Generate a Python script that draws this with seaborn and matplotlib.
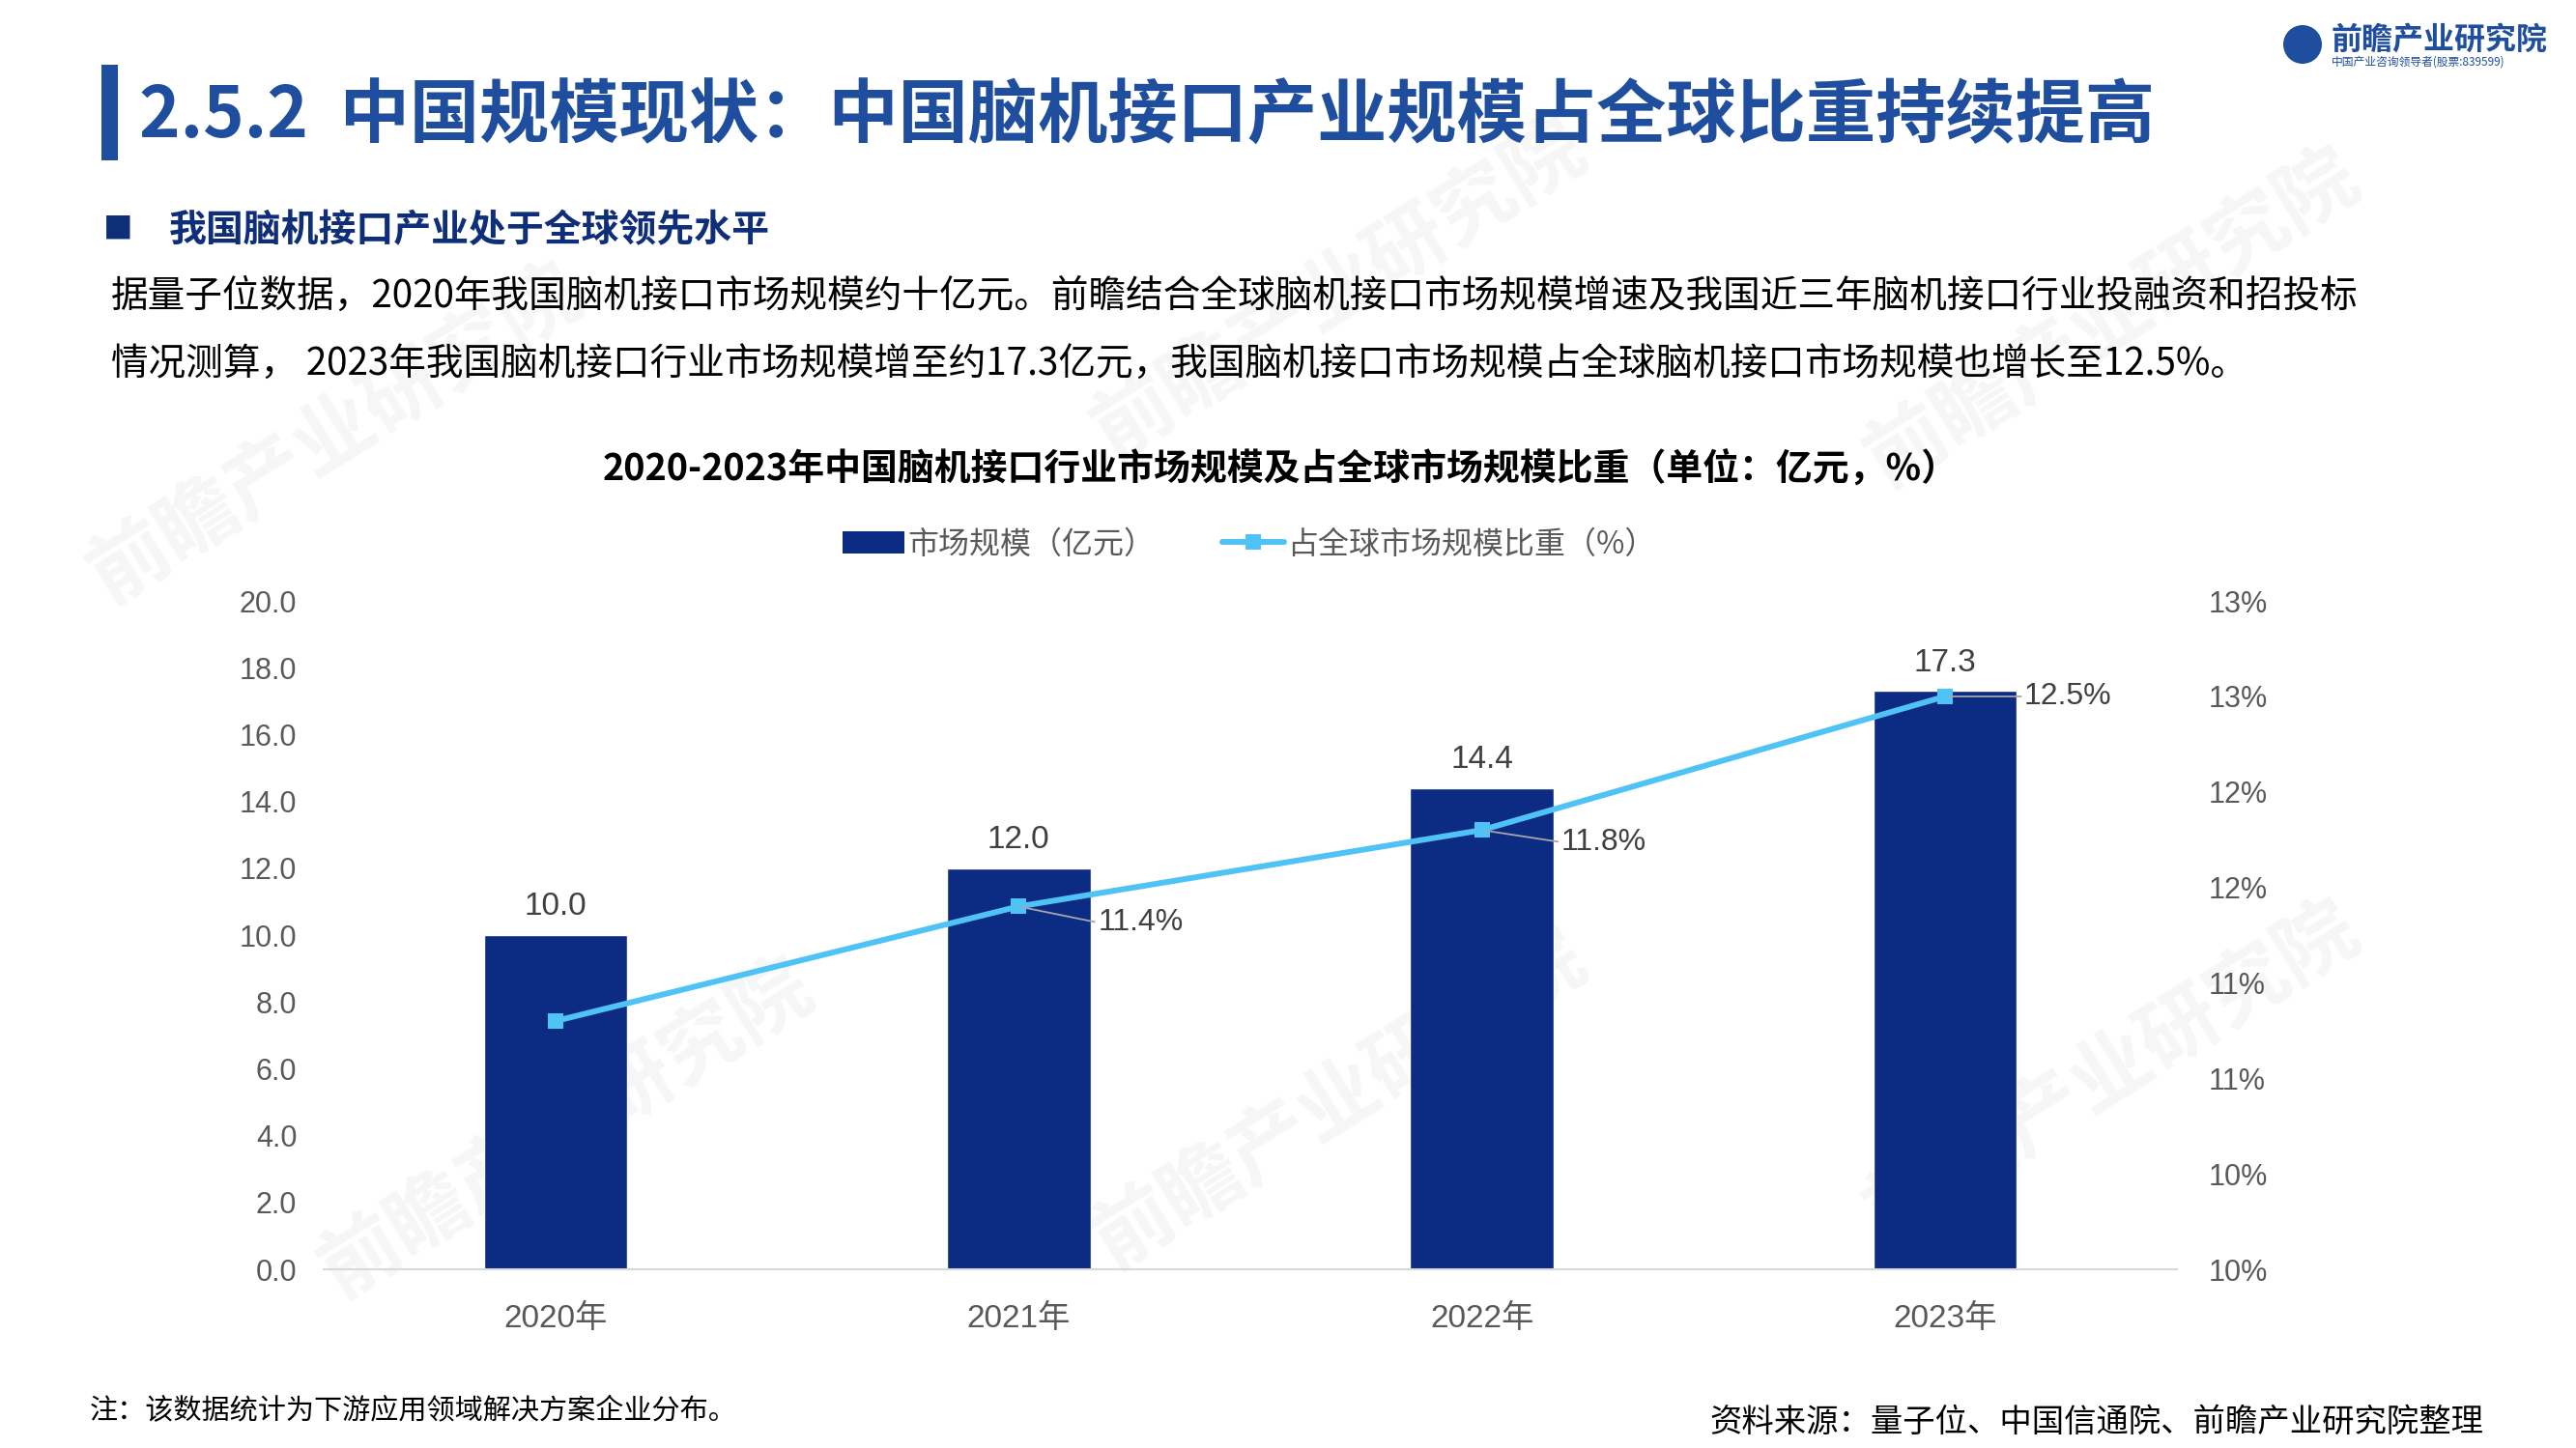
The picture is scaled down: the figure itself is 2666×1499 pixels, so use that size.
import numpy as np
import pandas as pd
import seaborn as sns
import matplotlib.pyplot as plt
from matplotlib.patches import Patch, Rectangle, Circle
from matplotlib.lines import Line2D
from matplotlib.ticker import FuncFormatter
import math

# Data
years = ["2020年", "2021年", "2022年", "2023年"]
market_size = [10.0, 12.0, 14.4, 17.3]
global_share = [10.8, 11.4, 11.8, 12.5]
share_labels = [None, "11.4%", "11.8%", "12.5%"]

size_ticks = [0, 2, 4, 6, 8, 10, 12, 14, 16, 18, 20]
share_ticks = [9.5, 10.0, 10.5, 11.0, 11.5, 12.0, 12.5, 13.0]

df = pd.DataFrame({
    "year": years,
    "size": market_size,
    "share": global_share
})

# Colours / fonts
NAVY = "#0C2B82"
SKY = "#4FC3F5"
TITLE_BLUE = "#1F4E9F"
GRAY = "#595959"
DARK = "#404040"

sns.set_theme(style="white")
plt.rcParams["font.family"] = ["Noto Sans CJK SC", "DejaVu Sans"]
NUM_FONT = ["Liberation Sans", "Noto Sans CJK SC"]

fig = plt.figure(figsize=(26.66, 14.99), dpi=100)
fig.patch.set_facecolor("white")

##################################################
# Watermarks (faint, behind everything)
##################################################
for wx, wy in [(0.13, 0.70), (0.22, 0.22), (0.52, 0.24), (0.82, 0.26), (0.82, 0.78), (0.52, 0.80)]:
    fig.text(
        wx, wy, "前瞻产业研究院",
        fontsize=60, color="#F6F6F6",
        rotation=32, ha="center", va="center",
        fontweight="bold", zorder=-5
    )

##################################################
# Chart
##################################################
ax = fig.add_axes([0.1257, 0.1234, 0.7193, 0.4616])
ax.patch.set_alpha(0)

sns.barplot(
    data=df,
    x="year",
    y="size",
    color=NAVY,
    saturation=1,
    width=0.31,
    ax=ax,
    zorder=2
)

ax.bar_label(
    ax.containers[0],
    fmt="%.1f",
    padding=10,
    fontsize=24,
    color=DARK,
    family=NUM_FONT
)

ax.set_ylim(0, 20)
ax.set_yticks(size_ticks)
ax.yaxis.set_major_formatter(FuncFormatter(lambda v, p: f"{v:.1f}"))
ax.set_xlabel("")
ax.set_ylabel("")

ax2 = ax.twinx()
ax2.patch.set_alpha(0)
sns.lineplot(
    x=np.arange(len(years)),
    y=global_share,
    color=SKY,
    linewidth=4.3,
    marker="s",
    markersize=12,
    markeredgewidth=0,
    ax=ax2,
    zorder=3
)

ax2.set_ylim(9.5, 13.0)
ax2.set_yticks(share_ticks)
ax2.yaxis.set_major_formatter(
    FuncFormatter(lambda v, p: f"{math.floor(v + 0.5 + 1e-9)}%")
)
ax2.set_ylabel("")

label_offsets = [(0, 0), (59, -12), (59, -9), (59, 0)]
for i, (v, lab) in enumerate(zip(global_share, share_labels)):
    if lab is None:
        continue
    ax2.annotate(
        lab,
        xy=(i, v),
        xytext=label_offsets[i],
        textcoords="offset points",
        ha="left",
        va="center",
        fontsize=23,
        color=DARK,
        family=NUM_FONT,
        arrowprops=dict(
            arrowstyle="-",
            color="#A6A6A6",
            lw=1.3,
            shrinkA=0,
            shrinkB=3,
            relpos=(0, 0.5)
        )
    )

ax.set_xlim(-0.5, len(years) - 0.5)

for a in (ax, ax2):
    for s in ["top", "left", "right", "bottom"]:
        a.spines[s].set_visible(False)
    a.tick_params(length=0)

ax.spines["bottom"].set_visible(True)
ax.spines["bottom"].set_color("#D9D9D9")
ax.spines["bottom"].set_linewidth(1.5)

ax.tick_params(axis="y", labelsize=22, labelcolor=GRAY, pad=20)
ax.tick_params(axis="x", labelsize=24, labelcolor=GRAY, pad=26)
ax2.tick_params(axis="y", labelsize=22, labelcolor=GRAY, pad=24)
for t in ax.get_yticklabels() + ax2.get_yticklabels() + ax.get_xticklabels():
    t.set_family(NUM_FONT)

##################################################
# Legend
##################################################
handles = [
    Patch(facecolor=NAVY, edgecolor="none"),
    Line2D([0], [0], color=SKY, lw=4.3, marker="s", markersize=12, markeredgewidth=0)
]
leg = fig.legend(
    handles,
    ["市场规模（亿元）", "占全球市场规模比重（%）"],
    loc="center",
    bbox_to_anchor=(0.485, 0.624),
    ncol=2,
    frameon=False,
    fontsize=23,
    handlelength=2.0,
    handletextpad=0.1,
    columnspacing=2.2
)
for t in leg.get_texts():
    t.set_color(GRAY)

##################################################
# Slide texts
##################################################
fig.add_artist(Rectangle(
    (0.0394, 0.889), 0.0064, 0.066,
    transform=fig.transFigure, facecolor=TITLE_BLUE, edgecolor="none"
))
fig.text(
    0.054, 0.919,
    "2.5.2  中国规模现状：中国脑机接口产业规模占全球比重持续提高",
    fontsize=52, fontweight="bold", color=TITLE_BLUE,
    ha="left", va="center"
)

fig.text(0.040, 0.841, "■", fontsize=22, color="#0F2E7A", ha="left", va="center")
fig.text(
    0.0657, 0.841, "我国脑机接口产业处于全球领先水平",
    fontsize=28, fontweight="bold", color="#0F2E7A",
    ha="left", va="center"
)

fig.text(
    0.043, 0.795,
    "据量子位数据，2020年我国脑机接口市场规模约十亿元。前瞻结合全球脑机接口市场规模增速及我国近三年脑机接口行业投融资和招投标",
    fontsize=27.8, color="black", ha="left", va="center"
)
fig.text(
    0.043, 0.748,
    "情况测算， 2023年我国脑机接口行业市场规模增至约17.3亿元，我国脑机接口市场规模占全球脑机接口市场规模也增长至12.5%。",
    fontsize=27.8, color="black", ha="left", va="center"
)

fig.text(
    0.497, 0.676,
    "2020-2023年中国脑机接口行业市场规模及占全球市场规模比重（单位：亿元，%）",
    fontsize=27.3, fontweight="bold", color="black",
    ha="center", va="center"
)

fig.text(
    0.035, 0.025,
    "注：该数据统计为下游应用领域解决方案企业分布。",
    fontsize=21, color="black", ha="left", va="center"
)
fig.text(
    0.964, 0.018,
    "资料来源：量子位、中国信通院、前瞻产业研究院整理",
    fontsize=24, color="black", ha="right", va="center"
)

# Logo
fig.add_artist(Circle(
    (23.83, 14.53), 0.2,
    transform=fig.dpi_scale_trans, facecolor=TITLE_BLUE, edgecolor="none"
))
fig.text(
    0.905, 0.972, "前瞻产业研究院",
    fontsize=23, fontweight="bold", color=TITLE_BLUE,
    ha="left", va="center"
)
fig.text(
    0.905, 0.957, "中国产业咨询领导者(股票:839599)",
    fontsize=8.5, color=TITLE_BLUE,
    ha="left", va="center"
)

plt.savefig("out.png", dpi=100)
plt.close()
